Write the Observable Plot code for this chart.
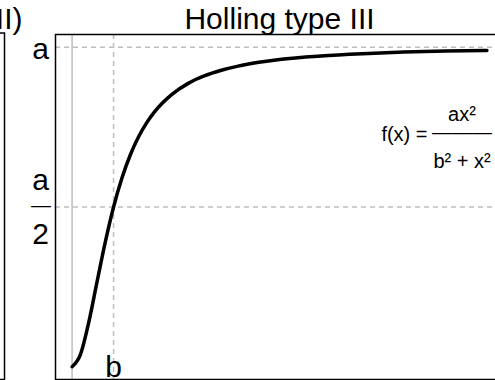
<!DOCTYPE html>
<html><head><meta charset="utf-8">
<script src="https://cdn.jsdelivr.net/npm/d3@7"></script>
<script src="https://cdn.jsdelivr.net/npm/@observablehq/plot@0.6"></script>
<style>
body{margin:0;background:#fff;}
#wrap{position:relative;width:495px;height:380px;overflow:hidden;background:#fff;}
#wrap svg{position:absolute;top:0;}
</style></head><body><div id="wrap"></div>
<script>
// Curve values (a = 1, b = 1)
const xValues = [0, 0.2, 0.4, 0.6, 0.8, 1.0, 1.2, 1.4, 1.6, 1.8, 2.0, 2.4, 2.8, 3.2, 3.6, 4.0, 4.5, 5, 6, 7, 8, 9, 10];
const yValues = [0, 0.038, 0.138, 0.265, 0.390, 0.5, 0.590, 0.662, 0.719, 0.764, 0.8, 0.852, 0.887, 0.911, 0.928, 0.941, 0.953, 0.962, 0.973, 0.980, 0.985, 0.988, 0.990];
const aValue = 1;
const bValue = 1;
const originX = [0];
const titleText = "Holling type III";
const leftTitleTail = "II)";
const yTickLabels = ["a", "a", "2"];
const xTickLabels = ["b"];
const formulaLeft = "f(x) =";
const formulaNum = "ax²";
const formulaDen = "b² + x²";

const font = "'Liberation Sans', Arial, Helvetica, sans-serif";
const gray = "#bebebe";
const dash = "5,4";
const curveData = xValues.map((x, i) => ({x, y: yValues[i]}));
const svgStyle = {maxWidth: "none", background: "transparent", overflow: "visible", fontFamily: font};

const main = Plot.plot({
  width: 510, height: 380,
  marginTop: 34, marginBottom: 1, marginLeft: 55, marginRight: 7,
  x: {domain: [-0.4, 10.4], axis: null},
  y: {domain: [-0.04, 1.04], axis: null},
  style: svgStyle,
  marks: [
    Plot.ruleX(originX, {stroke: gray, strokeWidth: 1.5}),
    Plot.ruleX([bValue], {stroke: gray, strokeWidth: 1.5, strokeDasharray: dash}),
    Plot.ruleY([aValue, aValue / 2], {stroke: gray, strokeWidth: 1.5, strokeDasharray: dash}),
    Plot.line(curveData, {x: "x", y: "y", stroke: "black", strokeWidth: 3.5, curve: "monotone-x", strokeLinecap: "round"}),
    Plot.frame({stroke: "black", strokeWidth: 1.5}),
    Plot.text([titleText], {text: d => d, frameAnchor: "top", lineAnchor: "bottom", dy: -5.5, fontSize: 30, fill: "black"}),
    // y labels
    Plot.text([aValue], {y: d => d, text: () => yTickLabels[0], frameAnchor: "left", textAnchor: "middle", dx: -15, dy: 2, fontSize: 30, fill: "black"}),
    Plot.text([aValue / 2], {y: d => d, text: () => yTickLabels[1], frameAnchor: "left", textAnchor: "middle", dx: -15, dy: -26.5, fontSize: 30, fill: "black"}),
    Plot.text([aValue / 2], {y: d => d, text: () => "—", frameAnchor: "left", textAnchor: "middle", dx: -14.5, dy: -1, fontSize: 20, fill: "black"}),
    Plot.text([aValue / 2], {y: d => d, text: () => yTickLabels[2], frameAnchor: "left", textAnchor: "middle", dx: -15, dy: 27.5, fontSize: 30, fill: "black"}),
    // x label b
    Plot.text([bValue], {x: d => d, text: () => xTickLabels[0], frameAnchor: "bottom", lineAnchor: "bottom", dy: -3, fontSize: 30, fill: "black"}),
    // formula
    Plot.text([formulaLeft], {text: d => d, frameAnchor: "top-right", textAnchor: "end", lineAnchor: "bottom", dx: -76, dy: 106, fontSize: 20, fill: "black"}),
    Plot.text([formulaNum], {text: d => d, frameAnchor: "top-right", textAnchor: "middle", lineAnchor: "bottom", dx: -41.5, dy: 86, fontSize: 20, fill: "black"}),
    Plot.text(["———"], {text: d => d, frameAnchor: "top-right", textAnchor: "middle", lineAnchor: "middle", dx: -41.5, dy: 98, fontSize: 20, fill: "black"}),
    Plot.text([formulaDen], {text: d => d, frameAnchor: "top-right", textAnchor: "middle", lineAnchor: "bottom", dx: -41.5, dy: 133, fontSize: 20, fill: "black"})
  ]
});
main.style.left = "0px";

const left = Plot.plot({
  width: 226, height: 380,
  marginTop: 32.5, marginBottom: 1, marginLeft: 10, marginRight: 22,
  x: {axis: null}, y: {axis: null},
  style: svgStyle,
  marks: [
    Plot.frame({stroke: "black", strokeWidth: 1.5}),
    Plot.text([leftTitleTail], {text: d => d, frameAnchor: "top-right", textAnchor: "end", lineAnchor: "bottom", dx: 18, dy: -4, fontSize: 30, fill: "black"})
  ]
});
left.style.left = "-200px";

const wrap = document.getElementById("wrap");
wrap.appendChild(main);
wrap.appendChild(left);
</script></body></html>
